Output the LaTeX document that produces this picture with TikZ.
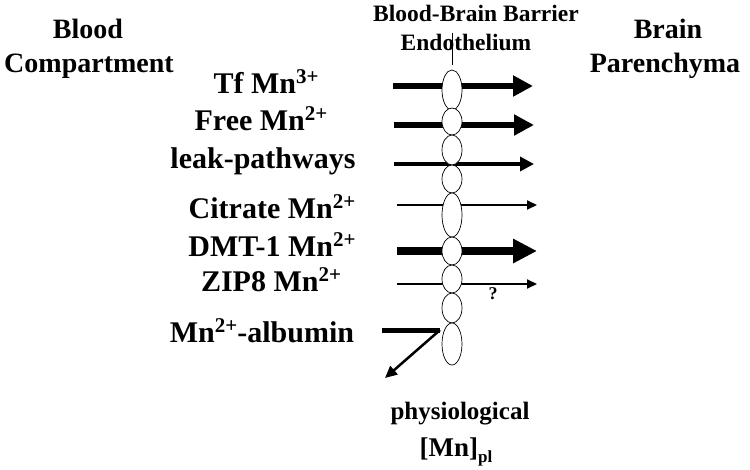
\documentclass[tikz,border=0pt]{standalone}
\usepackage{fontspec}
\setmainfont{Liberation Serif}
\usepackage{tikz}
\usetikzlibrary{positioning,arrows.meta,shapes.geometric}
\newcommand\sups[1]{\raisebox{10pt}{\fontsize{21}{21}\selectfont #1}}
\newcommand\subs[1]{\raisebox{-6pt}{\fontsize{17}{17}\selectfont #1}}

\begin{document}
\begin{tikzpicture}[x=1pt,y=-1pt,
  lbl/.style={font=\bfseries\fontsize{30}{34}\selectfont, anchor=base, inner sep=0pt},
  side/.style={font=\bfseries\fontsize{28}{32}\selectfont, anchor=base, inner sep=0pt},
  head/.style={font=\bfseries\fontsize{23.5}{26}\selectfont, anchor=base, inner sep=0pt},
  foot/.style={font=\bfseries\fontsize{25}{28}\selectfont, anchor=base, inner sep=0pt},
  cell/.style={ellipse, draw, fill=white, line width=0.7pt, minimum width=20pt,
    minimum height=#1, inner sep=0pt},
  heavy/.style={line width=6pt, -{Triangle[length=20pt,width=20pt]}},
  huge/.style={line width=8pt, -{Triangle[length=24pt,width=23pt]}},
  medium/.style={line width=4.5pt, -{Triangle[length=14pt,width=14pt]}},
  light/.style={line width=2pt, -{Triangle[length=10pt,width=9pt]}}
]
\useasboundingbox (0,0) rectangle (750,469);

\node[side] (blood) at (88,38) {Blood};
\node[side] (comp) at (89,72) {Compartment};
\node[side] (brain) at (668,38) {Brain};
\node[side] (paren) at (665,72) {Parenchyma};
\node[head] (bbb) at (476,21) {Blood-Brain Barrier};
\node[head] (endo) at (466,50) {Endothelium};

\node[lbl] (tf) at (266,93) {Tf Mn\sups{3+}};
\node[lbl] (free) at (261,130) {Free Mn\sups{2+}};
\node[lbl] (leak) at (263,168) {leak-pathways};
\node[lbl] (cit) at (272,218) {Citrate Mn\sups{2+}};
\node[lbl] (dmt) at (272,256) {DMT-1 Mn\sups{2+}};
\node[lbl] (zip) at (271,291) {ZIP8 Mn\sups{2+}};
\node[lbl] (alb) at (262,342) {Mn\sups{2+}-albumin};

\node[foot] (phys) at (460,419) {physiological};
\node[foot, font=\bfseries\fontsize{27}{30}\selectfont] (mnpl) at (456,456) {[Mn]\subs{pl}};
\node[font=\bfseries\fontsize{18}{20}\selectfont] (q) at (493,294) {?};

\coordinate (tt) at (452,33);
\coordinate (tb) at (452,65);
\draw[line width=1pt] (tt) -- (tb);

\coordinate (tfa) at (393,86);  \coordinate (tfb) at (533,86);
\coordinate (fra) at (394,125); \coordinate (frb) at (534,125);
\coordinate (lka) at (394,164); \coordinate (lkb) at (534,164);
\coordinate (cia) at (397,205); \coordinate (cib) at (537,205);
\coordinate (dma) at (397,251); \coordinate (dmb) at (537,251);
\coordinate (zpa) at (397,284); \coordinate (zpb) at (537,284);
\coordinate (ala) at (382,330); \coordinate (alk) at (440,330);
\coordinate (alc) at (385,378);

\draw[heavy] (tfa) -- (tfb);
\draw[heavy] (fra) -- (frb);
\draw[medium] (lka) -- (lkb);
\draw[light] (cia) -- (cib);
\draw[huge] (dma) -- (dmb);
\draw[light] (zpa) -- (zpb);
\draw[line width=5pt] (ala) -- (alk);
\draw[line width=2.5pt, -{Triangle[length=12pt,width=11pt]}] (alk) -- (alc);

\foreach \y/\h [count=\i] in {90/40, 121.5/27, 150/30, 179/28, 215/44,
    251/28, 279/28, 308/30, 344/42}
  \node[cell=\h pt] (c\i) at (452,\y) {};
\end{tikzpicture}
\end{document}
